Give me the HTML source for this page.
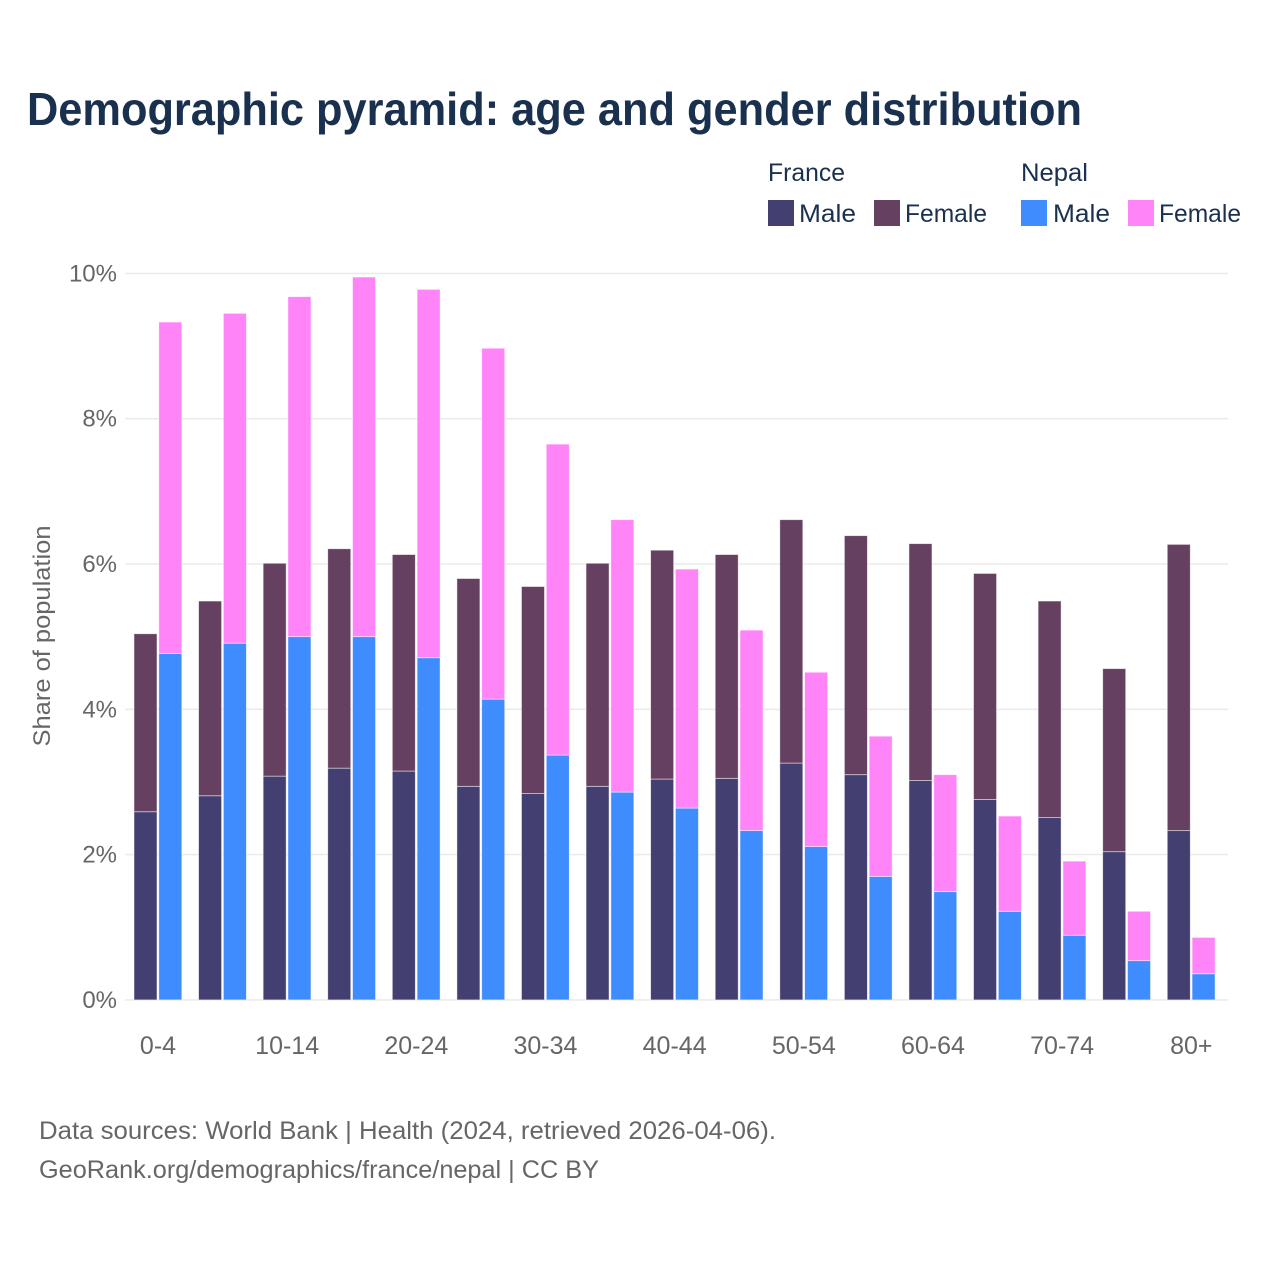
<!DOCTYPE html>
<html lang="en">
<head>
<meta charset="utf-8">
<title>Demographic pyramid: age and gender distribution</title>
<style>
html,body{margin:0;padding:0;background:#fff;}
svg{display:block;font-family:"Liberation Sans",sans-serif;}
.tick{font-size:24px;fill:#666;}
.xtick{font-size:25px;fill:#666;}
.leg{font-size:25px;fill:#19304f;}
.note{font-size:25px;fill:#666;}
</style>
</head>
<body>
<svg id="chart" width="1280" height="1280" viewBox="0 0 1280 1280" xmlns="http://www.w3.org/2000/svg">
  <text x="27" y="125" font-size="46" font-weight="700" fill="#19304f" textLength="1055" lengthAdjust="spacingAndGlyphs">Demographic pyramid: age and gender distribution</text>

  <g>
    <text class="leg" x="768" y="181" textLength="77" lengthAdjust="spacingAndGlyphs">France</text>
    <text class="leg" x="1021" y="181" textLength="67" lengthAdjust="spacingAndGlyphs">Nepal</text>
    <rect x="768" y="200" width="26" height="26" fill="#433f70"/>
    <text class="leg" x="799" y="222" textLength="57" lengthAdjust="spacingAndGlyphs">Male</text>
    <rect x="874" y="200" width="26" height="26" fill="#664060"/>
    <text class="leg" x="905" y="222" textLength="82" lengthAdjust="spacingAndGlyphs">Female</text>
    <rect x="1021" y="200" width="26" height="26" fill="#3f8cff"/>
    <text class="leg" x="1053" y="222" textLength="57" lengthAdjust="spacingAndGlyphs">Male</text>
    <rect x="1128" y="200" width="26" height="26" fill="#ff84f8"/>
    <text class="leg" x="1159" y="222" textLength="82" lengthAdjust="spacingAndGlyphs">Female</text>
  </g>

  <g id="grid"></g>
  <g id="yticks"></g>
  <g id="bars"></g>
  <g id="xticks"></g>

  <text transform="translate(50,636) rotate(-90)" text-anchor="middle" font-size="24" fill="#666" textLength="221" lengthAdjust="spacingAndGlyphs">Share of population</text>

  <text class="note" x="39" y="1139" textLength="737" lengthAdjust="spacingAndGlyphs">Data sources: World Bank | Health (2024, retrieved 2026-04-06).</text>
  <text class="note" x="39" y="1178" textLength="560" lengthAdjust="spacingAndGlyphs">GeoRank.org/demographics/france/nepal | CC BY</text>
</svg>
<script>
const categories = ["0-4","5-9","10-14","15-19","20-24","25-29","30-34","35-39","40-44","45-49","50-54","55-59","60-64","65-69","70-74","75-79","80+"];
const xTickLabels = ["0-4","","10-14","","20-24","","30-34","","40-44","","50-54","","60-64","","70-74","","80+"];
const yTickValues = [0,2,4,6,8,10];
const franceMale = [2.59,2.81,3.08,3.19,3.15,2.94,2.84,2.94,3.04,3.05,3.26,3.10,3.02,2.76,2.51,2.04,2.33];
const franceFemale = [2.45,2.68,2.93,3.02,2.98,2.86,2.85,3.07,3.15,3.08,3.35,3.29,3.26,3.11,2.98,2.52,3.94];
const nepalMale = [4.77,4.91,5.00,5.00,4.71,4.14,3.37,2.86,2.64,2.33,2.11,1.70,1.49,1.22,0.89,0.54,0.36];
const nepalFemale = [4.56,4.54,4.68,4.95,5.07,4.83,4.28,3.75,3.29,2.76,2.40,1.93,1.61,1.31,1.02,0.68,0.50];

const NS = "http://www.w3.org/2000/svg";
const yScale = v => 999.9 - v * 72.65;
const xCenter = i => 158 + i * 64.58;
const barW = 23;

function make(tag, attrs, parent) {
  const el = document.createElementNS(NS, tag);
  for (const k in attrs) el.setAttribute(k, attrs[k]);
  parent.appendChild(el);
  return el;
}

const grid = document.getElementById("grid");
const yticks = document.getElementById("yticks");
yTickValues.forEach(v => {
  const line = make("line", {x1:125, x2:1228, y1:yScale(v), y2:yScale(v), stroke:"#ebebeb", "stroke-width":1.6}, grid);
  
  
  const t = make("text", {class:"tick", x:117, y:yScale(v)+8, "text-anchor":"end"}, yticks);
  
  
  t.textContent = v + "%";
});

const barsG = document.getElementById("bars");
function drawBar(x, base, value, fill, stroke) {
  const y0 = yScale(base);
  const y1 = yScale(base + value);
  const r = make("rect", {x:x, y:y1, width:barW, height:y0 - y1, fill:fill, stroke:stroke, "stroke-width":0.8, "stroke-opacity":0.6}, barsG);
  
  
  return r;
}
categories.forEach((c, i) => {
  const cx = xCenter(i);
  const xF = cx - 24;
  const xN = cx + 0.8;
  drawBar(xF, 0, franceMale[i], "#433f70", "#ffffff");
  drawBar(xF, franceMale[i], franceFemale[i], "#664060", "#ffffff");
  drawBar(xN, 0, nepalMale[i], "#3f8cff", "#ffffff");
  drawBar(xN, nepalMale[i], nepalFemale[i], "#ff84f8", "#ffffff");
});

const xticks = document.getElementById("xticks");
xTickLabels.forEach((label, i) => {
  if (!label) return;
  const t = make("text", {class:"xtick", x:xCenter(i), y:1054, "text-anchor":"middle"}, xticks);
  
  
  t.textContent = label;
});
</script>
</body>
</html>
